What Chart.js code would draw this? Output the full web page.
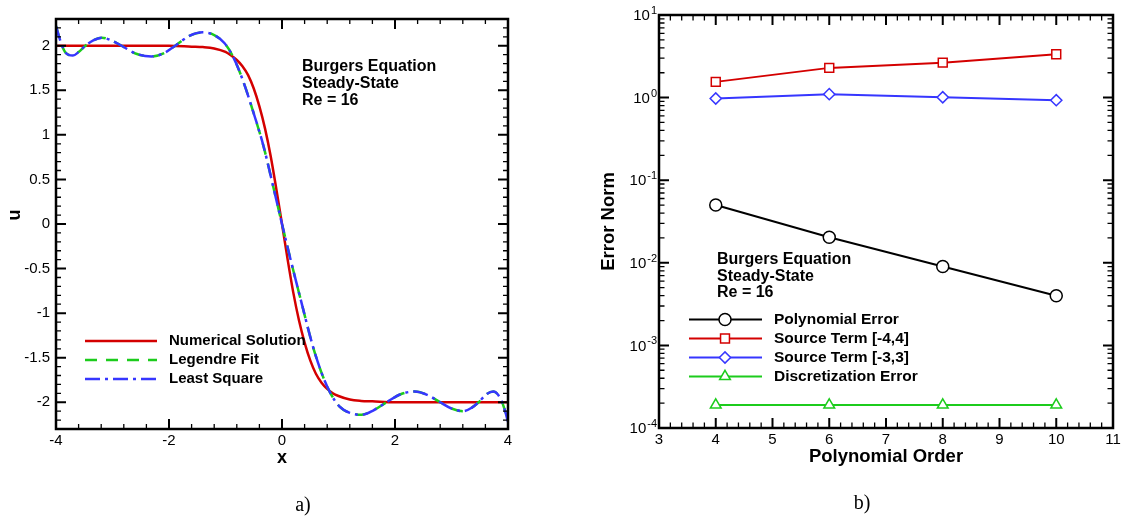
<!DOCTYPE html>
<html>
<head>
<meta charset="utf-8">
<title>Burgers equation: polynomial fits and error norms</title>
<script src="https://cdn.jsdelivr.net/npm/chart.js@4.4.1/dist/chart.umd.min.js"></script>
<style>
  html, body { margin: 0; padding: 0; background: #fff; }
  #wrap { position: relative; width: 1122px; height: 517px; }
  canvas { position: absolute; top: 0; }
  #burgers { left: 0; }
  #errors { left: 561px; }
</style>
</head>
<body>
<div id="wrap">
  <canvas id="burgers" width="561" height="517"></canvas>
  <canvas id="errors" width="561" height="517"></canvas>
</div>
<script>
// ---- panel a): steady solution u(x) and the two polynomial fits ----
const solX = [-4, -3, -2, -1.6, -1.4, -1.2, -1.0, -0.9, -0.8, -0.7, -0.6, -0.5, -0.4, -0.3, -0.2, -0.1, 0,
              0.1, 0.2, 0.3, 0.4, 0.5, 0.6, 0.7, 0.8, 0.9, 1.0, 1.2, 1.4, 1.6, 2, 3, 4];
const solU = [2.0, 2.0, 2.0, 1.99, 1.985, 1.97, 1.93, 1.89, 1.84, 1.77, 1.67, 1.52, 1.32, 1.07, 0.76, 0.39, 0,
              -0.40, -0.77, -1.08, -1.33, -1.53, -1.68, -1.78, -1.85, -1.90, -1.93, -1.97, -1.985, -1.99, -2.0, -2.0, -2.0];

const fitX = [-4.0, -3.92, -3.84, -3.70, -3.60, -3.48, -3.34, -3.19, -3.02, -2.84, -2.58, -2.31, -2.08, -1.89,
              -1.64, -1.40, -1.20, -1.02, -0.86, -0.68, -0.51, -0.33, -0.20, 0, 0.16, 0.32, 0.55, 0.70, 0.85,
              1.02, 1.20, 1.41, 1.62, 1.85, 2.10, 2.35, 2.58, 2.80, 3.00, 3.21, 3.36, 3.48, 3.62, 3.74, 3.86, 3.94, 4.0];
const legendreU = [2.22, 2.05, 1.93, 1.89, 1.93, 2.00, 2.06, 2.09, 2.06, 2.00, 1.91, 1.88, 1.92, 2.00,
                   2.11, 2.15, 2.12, 2.03, 1.87, 1.59, 1.26, 0.88, 0.54, 0, -0.42, -0.82, -1.38, -1.67, -1.89,
                   -2.05, -2.12, -2.14, -2.09, -2.00, -1.91, -1.88, -1.92, -2.00, -2.07, -2.10, -2.06, -2.00, -1.91, -1.88, -1.95, -2.08, -2.22];
const leastSquareU = [2.22, 2.05, 1.93, 1.89, 1.93, 2.00, 2.06, 2.09, 2.06, 2.00, 1.91, 1.88, 1.92, 2.00,
                      2.11, 2.15, 2.12, 2.03, 1.87, 1.59, 1.26, 0.88, 0.54, 0, -0.42, -0.82, -1.38, -1.67, -1.89,
                      -2.05, -2.12, -2.14, -2.09, -2.00, -1.91, -1.88, -1.92, -2.00, -2.07, -2.10, -2.06, -2.00, -1.91, -1.88, -1.95, -2.08, -2.22];
const xTicks = [-4, -2, 0, 2, 4];
const uTicks = [-2, -1.5, -1, -0.5, 0, 0.5, 1, 1.5, 2];

// ---- panel b): error norms against polynomial order ----
const orders = [4, 6, 8, 10];
const polyError = [0.050, 0.0204, 0.0090, 0.0040];
const sourceTerm44 = [1.55, 2.29, 2.65, 3.35];
const sourceTerm33 = [0.975, 1.10, 1.01, 0.93];
const discError = [1.9e-4, 1.9e-4, 1.9e-4, 1.9e-4];
const orderTicks = [3, 4, 5, 6, 7, 8, 9, 10, 11];
const normExps = [-4, -3, -2, -1, 0, 1];

const caseNote = ['Burgers Equation', 'Steady-State', 'Re = 16'];

const RED = '#d40000', GREEN = '#1ccc1c', BLUE = '#3636ff';
const SANS = '"Liberation Sans", Arial, sans-serif';
const SERIF = '"Liberation Serif", "Times New Roman", serif';

const pts = (xs, ys) => xs.map((x, i) => ({ x: x, y: ys[i] }));

// inward ticks on all four sides of the frame
function tickFrame(chart, xMajor, xMinor, yMajor, yMinor, lenMaj, lenMin) {
  const ctx = chart.ctx, a = chart.chartArea, sx = chart.scales.x, sy = chart.scales.y;
  const one = (list, len, w) => {
    ctx.lineWidth = w;
    ctx.beginPath();
    list.x.forEach(v => {
      const p = sx.getPixelForValue(v);
      ctx.moveTo(p, a.bottom); ctx.lineTo(p, a.bottom - len);
      ctx.moveTo(p, a.top); ctx.lineTo(p, a.top + len);
    });
    list.y.forEach(v => {
      const p = sy.getPixelForValue(v);
      ctx.moveTo(a.left, p); ctx.lineTo(a.left + len, p);
      ctx.moveTo(a.right, p); ctx.lineTo(a.right - len, p);
    });
    ctx.stroke();
  };
  ctx.strokeStyle = '#000';
  one({ x: xMinor, y: yMinor }, lenMin, 1.3);
  one({ x: xMajor, y: yMajor }, lenMaj, 2);
  ctx.lineWidth = 2.5;
  ctx.strokeRect(a.left, a.top, a.right - a.left, a.bottom - a.top);
}

function textLines(ctx, lines, x, y0, step, font) {
  ctx.font = font;
  ctx.textAlign = 'left';
  ctx.textBaseline = 'middle';
  lines.forEach((s, i) => ctx.fillText(s, x, y0 + i * step));
}

const burgersFrame = {
  id: 'burgersFrame',
  afterDraw(chart) {
    const ctx = chart.ctx, a = chart.chartArea, sx = chart.scales.x, sy = chart.scales.y;
    ctx.save();
    const xMinor = [], yMinor = [];
    for (let i = -10; i <= 10; i++) if (i % 5 !== 0) xMinor.push(i * 0.4);
    for (let i = -23; i <= 23; i++) if (i % 5 !== 0) yMinor.push(i * 0.1);
    tickFrame(chart, xTicks, xMinor, uTicks, yMinor, 10, 5);

    ctx.fillStyle = '#000';
    ctx.font = '15px ' + SANS;
    ctx.textAlign = 'center';
    ctx.textBaseline = 'middle';
    xTicks.forEach(v => ctx.fillText(String(v), sx.getPixelForValue(v), a.bottom + 12));
    ctx.textAlign = 'right';
    uTicks.forEach(v => ctx.fillText(String(v), a.left - 6, sy.getPixelForValue(v)));

    ctx.font = 'bold 18px ' + SANS;
    ctx.textAlign = 'center';
    ctx.fillText('x', sx.getPixelForValue(0), 458);
    ctx.save();
    ctx.translate(15, 215);
    ctx.rotate(-Math.PI / 2);
    ctx.fillText('u', 0, 0);
    ctx.restore();

    textLines(ctx, caseNote, 302, 67, 16.6, 'bold 16px ' + SANS);

    // legend
    const items = [
      { label: 'Numerical Solution', color: RED, dash: [] },
      { label: 'Legendre Fit', color: GREEN, dash: [12, 9] },
      { label: 'Least Square', color: BLUE, dash: [15, 5, 3, 5] }
    ];
    items.forEach((it, i) => {
      const y = 341 + i * 19;
      ctx.strokeStyle = it.color;
      ctx.lineWidth = 2.5;
      ctx.setLineDash(it.dash);
      ctx.beginPath(); ctx.moveTo(85, y); ctx.lineTo(157, y); ctx.stroke();
    });
    ctx.setLineDash([]);
    textLines(ctx, items.map(it => it.label), 169, 341, 19, 'bold 15px ' + SANS);

    ctx.font = '20px ' + SERIF;
    ctx.textAlign = 'center';
    ctx.textBaseline = 'alphabetic';
    ctx.fillText('a)', 303, 511);
    ctx.restore();
  }
};

const markers = [
  { label: 'Polynomial Error', color: '#000', style: 'circle', r: 6, data: polyError },
  { label: 'Source Term [-4,4]', color: RED, style: 'rect', r: 6.3, data: sourceTerm44 },
  { label: 'Source Term [-3,3]', color: BLUE, style: 'rectRot', r: 5.6, data: sourceTerm33 },
  { label: 'Discretization Error', color: GREEN, style: 'triangle', r: 6.2, data: discError }
];

const errorFrame = {
  id: 'errorFrame',
  afterDraw(chart) {
    const ctx = chart.ctx, a = chart.chartArea, sx = chart.scales.x, sy = chart.scales.y;
    ctx.save();
    const xMinor = [], yMajor = [], yMinor = [];
    for (let i = 15; i <= 55; i++) if (i % 5 !== 0) xMinor.push(i * 0.2);
    normExps.forEach(e => yMajor.push(Math.pow(10, e)));
    normExps.slice(0, -1).forEach(e => { for (let m = 2; m <= 9; m++) yMinor.push(m * Math.pow(10, e)); });
    tickFrame(chart, orderTicks, xMinor, yMajor, yMinor, 10, 5.5);

    ctx.fillStyle = '#000';
    ctx.font = '15px ' + SANS;
    ctx.textAlign = 'center';
    ctx.textBaseline = 'middle';
    orderTicks.forEach(v => ctx.fillText(String(v), sx.getPixelForValue(v), a.bottom + 12));

    normExps.forEach(e => {
      const y = sy.getPixelForValue(Math.pow(10, e));
      const ex = String(e);
      ctx.font = '11px ' + SANS;
      ctx.textAlign = 'right';
      ctx.fillText(ex, a.left - 2, y - 4);
      const w = ctx.measureText(ex).width;
      ctx.font = '15px ' + SANS;
      ctx.fillText('10', a.left - 3 - w, y + 1);
    });

    ctx.font = 'bold 18.5px ' + SANS;
    ctx.textAlign = 'center';
    ctx.fillText('Polynomial Order', (a.left + a.right) / 2, 457);
    ctx.save();
    ctx.translate(48, (a.top + a.bottom) / 2);
    ctx.rotate(-Math.PI / 2);
    ctx.fillText('Error Norm', 0, 0);
    ctx.restore();

    textLines(ctx, caseNote, 156, 260, 16.4, 'bold 16px ' + SANS);

    markers.forEach((m, i) => {
      const y = 319.5 + i * 19;
      ctx.strokeStyle = m.color;
      ctx.lineWidth = 2;
      ctx.beginPath(); ctx.moveTo(128, y); ctx.lineTo(201, y); ctx.stroke();
      ctx.fillStyle = '#fff';
      ctx.lineWidth = 1.5;
      Chart.helpers.drawPoint(ctx, { pointStyle: m.style, radius: m.r, rotation: 0, borderWidth: 1.5 }, 164, y);
    });
    ctx.fillStyle = '#000';
    textLines(ctx, markers.map(m => m.label), 213, 319.5, 19, 'bold 15.5px ' + SANS);

    ctx.font = '20px ' + SERIF;
    ctx.textAlign = 'center';
    ctx.textBaseline = 'alphabetic';
    ctx.fillText('b)', 301, 509);
    ctx.restore();
  }
};

const hidden = { display: false };

new Chart(document.getElementById('burgers'), {
  type: 'line',
  data: {
    datasets: [
      { label: 'Numerical Solution', data: pts(solX, solU), borderColor: RED, borderWidth: 2.5, order: 3 },
      { label: 'Legendre Fit', data: pts(fitX, legendreU), borderColor: GREEN, borderWidth: 2.5, borderDash: [12, 9], order: 2 },
      { label: 'Least Square', data: pts(fitX, leastSquareU), borderColor: BLUE, borderWidth: 2.5, borderDash: [15, 5, 3, 5], order: 1 }
    ]
  },
  options: {
    responsive: false,
    animation: false,
    events: [],
    layout: { padding: { left: 56, top: 19, right: 53, bottom: 88 } },
    elements: { point: { radius: 0 }, line: { cubicInterpolationMode: 'monotone', fill: false } },
    scales: {
      x: Object.assign({ type: 'linear', min: -4, max: 4 }, hidden),
      y: Object.assign({ type: 'linear', min: -2.3, max: 2.3 }, hidden)
    },
    plugins: { legend: hidden, tooltip: { enabled: false } }
  },
  plugins: [burgersFrame]
});

new Chart(document.getElementById('errors'), {
  type: 'line',
  data: {
    datasets: markers.map(m => ({
      label: m.label,
      data: pts(orders, m.data),
      borderColor: m.color,
      borderWidth: 2,
      pointStyle: m.style,
      pointRadius: m.r,
      pointBorderWidth: 1.5,
      pointBorderColor: m.color,
      pointBackgroundColor: '#fff',
      tension: 0
    }))
  },
  options: {
    responsive: false,
    animation: false,
    events: [],
    layout: { padding: { left: 98, top: 15, right: 9, bottom: 89 } },
    scales: {
      x: Object.assign({ type: 'linear', min: 3, max: 11 }, hidden),
      y: Object.assign({ type: 'logarithmic', min: 1e-4, max: 10 }, hidden)
    },
    plugins: { legend: hidden, tooltip: { enabled: false } }
  },
  plugins: [errorFrame]
});
</script>
</body>
</html>
